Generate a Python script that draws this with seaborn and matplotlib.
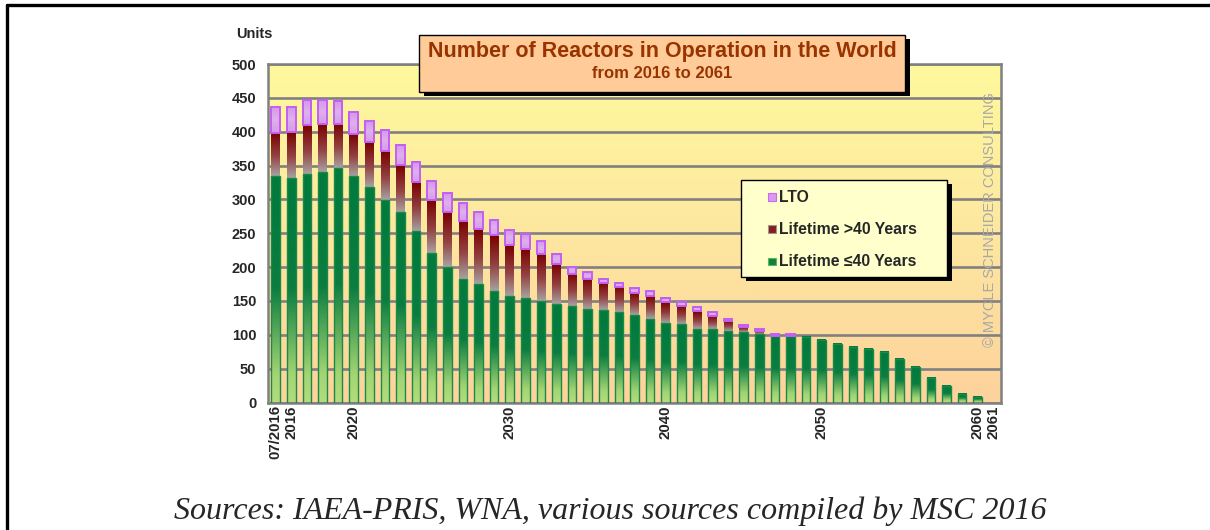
import numpy as np
import pandas as pd
import seaborn as sns
import matplotlib
matplotlib.use("Agg")
import matplotlib.pyplot as plt
from matplotlib.colors import LinearSegmentedColormap
from matplotlib.patches import Rectangle
from matplotlib.lines import Line2D

# ---------------------------------------------------------------------------
# data (units = reactors)
years = ["07/2016"] + [str(y) for y in range(2016, 2062)]
le40 = [334, 331, 338, 340, 346, 334, 319, 299, 282, 253, 221, 200, 182, 175, 165, 158,
        154, 150, 145, 142, 138, 136, 133, 129, 124, 118, 116, 109, 108, 105, 104, 101,
        98, 98, 97, 92, 86, 82, 79, 75, 64, 53, 36, 25, 13, 8, 0]
gt40 = [64, 68, 72, 71, 65, 63, 66, 72, 69, 72, 78, 81, 86, 81, 82, 75,
        73, 70, 60, 48, 45, 40, 37, 33, 34, 30, 27, 26, 20, 15, 8, 5,
        0, 0, 0, 0, 0, 0, 0, 0, 0, 0, 0, 0, 0, 0, 0]
lto = [39, 38, 37, 36, 35, 32, 31, 32, 30, 30, 28, 28, 26, 26, 23, 22,
       22, 18, 15, 10, 10, 7, 6, 7, 6, 6, 5, 6, 5, 4, 3, 3,
       3, 3, 0, 0, 0, 0, 0, 0, 0, 0, 0, 0, 0, 0, 0]
shown_labels = ["07/2016", "2016", "2020", "2030", "2040", "2050", "2060", "2061"]
legend_labels = ["LTO", "Lifetime >40 Years", "Lifetime \u226440 Years"]

df = pd.DataFrame({"year": years, "le40": le40, "gt40": gt40, "lto": lto})
df["b_gt40"] = df["le40"]
df["b_lto"] = df["le40"] + df["gt40"]
#---------------------------------------------------------------------------

sns.set_style("white")
plt.rcParams["font.family"] = ["Liberation Sans", "DejaVu Sans"]

W, H = 1210, 530
fig = plt.figure(figsize=(W / 100, H / 100), dpi=100)
ax = fig.add_axes([267.5 / W, 1 - 402.5 / H, (1001 - 267.5) / W, (402.5 - 64) / H])


def fx(x):
    return x / W


def fy(y):
    return 1 - y / H


# colour ramps (bottom -> top)
green_cm = LinearSegmentedColormap.from_list(
    "g", [(0, "#b2dc7e"), (0.12, "#a3d474"), (0.5, "#0b7d40"), (1, "#007a3d")])
red_cm = LinearSegmentedColormap.from_list(
    "r", [(0, "#a8a2a2"), (0.45, "#934343"), (1, "#7a0000")])
lto_cm = LinearSegmentedColormap.from_list(
    "l", [(0, "#d59be8"), (0.5, "#e0b0ee"), (1, "#d396e8")])

# background gradient
bg = np.linspace(0, 1, 256).reshape(-1, 1)
bg_cm = LinearSegmentedColormap.from_list("bg", [(0, "#fdd29c"), (0.55, "#fde9a0"), (1, "#fff99c")])
ax.imshow(bg, cmap=bg_cm, extent=(0, 1, 0, 1), transform=ax.transAxes, origin="lower",
          aspect="auto", zorder=0, interpolation="bilinear")

grad = np.linspace(0, 1, 128).reshape(-1, 1)
layers = [("le40", None, green_cm, "#1b8a46", 1.0),
          ("gt40", "b_gt40", red_cm, "none", 0),
          ("lto", "b_lto", lto_cm, "#c35ff5", 1.4)]
for col, bcol, cmap, edge, lw in layers:
    n0 = len(ax.patches)
    kws = {}
    if bcol is not None:
        kws["bottom"] = df[bcol].values
    sns.barplot(data=df, x="year", y=col, color="#ffffff", width=0.55, errorbar=None,
                edgecolor=edge, linewidth=lw, ax=ax, zorder=3, **kws)
    for p in ax.patches[n0:]:
        x0, w, y0, h = p.get_x(), p.get_width(), p.get_y(), p.get_height()
        if h <= 0:
            p.set_visible(False)
            continue
        ax.imshow(grad, cmap=cmap, extent=(x0, x0 + w, y0, y0 + h), origin="lower",
                  aspect="auto", zorder=2, interpolation="bilinear")
        p.set_facecolor("none")

# axes styling
ax.set_xlim(-0.53, 46.5)
ax.set_ylim(0, 500)
ax.set_yticks(range(0, 501, 50))
ax.yaxis.grid(True, color="#808080", lw=1.9)
ax.xaxis.grid(False)
ax.set_axisbelow(True)
for s in ax.spines.values():
    s.set_color("#808080")
    s.set_linewidth(1.8)
ax.tick_params(axis="y", length=5, width=1.4, color="#606060", pad=3)
ax.tick_params(axis="x", length=0, pad=2)
for t in ax.get_yticklabels():
    t.set_fontweight("bold")
    t.set_fontsize(10.5)
idx = [years.index(lbl) for lbl in shown_labels]
ax.set_xticks(idx)
ax.set_xticklabels(shown_labels, rotation=90, fontweight="bold", fontsize=10.8)
ax.set_xlabel("")
ax.set_ylabel("")

fig.text(fx(254), fy(34), "Units", ha="center", va="center", fontsize=10.5, fontweight="bold")


def box(x0, y0, x1, y1, face, sh=(5, 4)):
    fig.add_artist(Rectangle((fx(x0 + sh[0]), fy(y1 + sh[1])), (x1 - x0) / W, (y1 - y0) / H,
                             transform=fig.transFigure, facecolor="black", edgecolor="none", zorder=5))
    fig.add_artist(Rectangle((fx(x0), fy(y1)), (x1 - x0) / W, (y1 - y0) / H,
                             transform=fig.transFigure, facecolor=face, edgecolor="black",
                             lw=1.0, zorder=6))


# title box
box(419, 35, 905, 92, "#ffcc99")
fig.text(fx(662), fy(51), "Number of Reactors in Operation in the World", ha="center", va="center",
         fontsize=15.5, fontweight="bold", color="#993300", zorder=7)
fig.text(fx(662), fy(74), "from 2016 to 2061", ha="center", va="center",
         fontsize=12, fontweight="bold", color="#993300", zorder=7)

# legend box
box(741, 180, 947, 277, "#ffffcc")
leg_face = ["#d99be8", "#8b1c1c", "#0f7f40"]
leg_edge = ["#cc66ff", "#999999", "#5cb85c"]
leg_y = [197, 229, 261]
for lbl, fc, ec, yy in zip(legend_labels, leg_face, leg_edge, leg_y):
    fig.add_artist(Rectangle((fx(768), fy(yy + 4)), 7.5 / W, 7.5 / H, transform=fig.transFigure,
                             facecolor=fc, edgecolor=ec, lw=0.8, zorder=7))
    fig.text(fx(779), fy(yy), lbl, ha="left", va="center", fontsize=11.3, fontweight="bold", zorder=7)

# watermark
fig.text(fx(990), fy(220), "\u00a9 MYCLE SCHNEIDER CONSULTING", rotation=90, ha="center", va="center",
         fontsize=10.5, color="#a8a8a8")

# sources
fig.text(fx(610), fy(511), "Sources: IAEA-PRIS, WNA, various sources compiled by MSC 2016",
         ha="center", va="center", fontsize=23, style="italic", family=["Liberation Serif"])

# page frame
fig.add_artist(Line2D([fx(7), fx(7)], [fy(5), 0], transform=fig.transFigure, color="black", lw=2.4))
fig.add_artist(Line2D([fx(7), 1], [fy(5), fy(5)], transform=fig.transFigure, color="black", lw=2.4))

fig.savefig("out.png", dpi=100)
